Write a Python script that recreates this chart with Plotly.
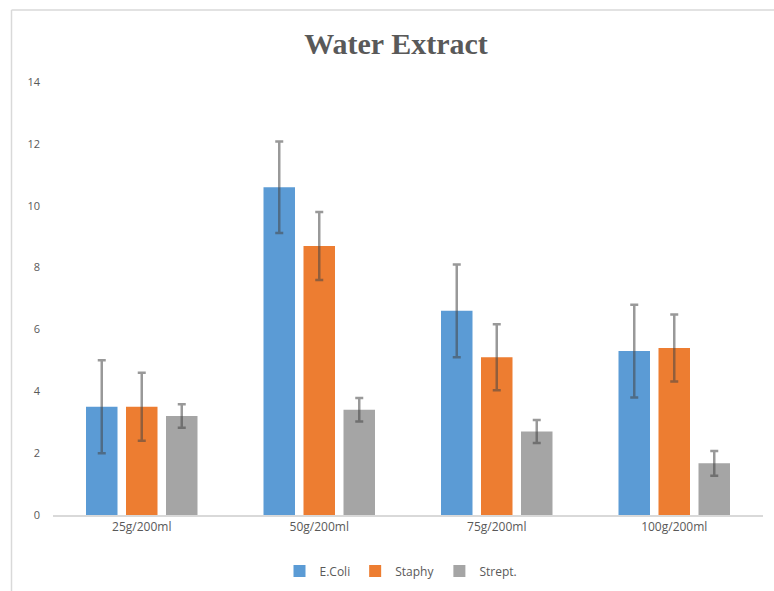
import plotly.graph_objects as go

categories = ["25g/200ml", "50g/200ml", "75g/200ml", "100g/200ml"]
ecoli = [3.5, 10.6, 6.6, 5.3]
ecoli_err = [1.5, 1.48, 1.5, 1.5]
staphy = [3.5, 8.7, 5.1, 5.4]
staphy_err = [1.1, 1.1, 1.07, 1.08]
strept = [3.2, 3.4, 2.7, 1.67]
strept_err = [0.38, 0.38, 0.37, 0.4]
series_names = ["E.Coli", "Staphy", "Strept."]
colors = ["#5b9bd5", "#ed7d31", "#a5a5a5"]

W, H = 774, 591
ml, mr, mt, mb = 53, 11, 82, 76

fig = go.Figure()
for name, vals, errs, col in zip(series_names, [ecoli, staphy, strept],
                                 [ecoli_err, staphy_err, strept_err], colors):
    fig.add_trace(go.Bar(
        x=categories, y=vals, name=name,
        marker=dict(color=col, line=dict(width=0)),
        error_y=dict(type="data", array=errs, visible=True,
                     color="rgba(70,70,70,0.55)", thickness=2.5, width=4),
    ))

pw = W - ml - mr
ph = H - mt - mb
fig.update_layout(
    width=W, height=H,
    margin=dict(l=ml, r=mr, t=mt, b=mb),
    paper_bgcolor="white", plot_bgcolor="white",
    barmode="group", bargap=0.324, bargroupgap=0.2125,
    title=dict(text="<b>Water Extract</b>", x=396 / W, xanchor="center",
               xref="container", yref="container", y=1 - 43 / H, yanchor="middle",
               font=dict(family="Liberation Serif", size=30, color="#595959")),
    font=dict(family="Open Sans", size=11, color="#595959"),
    xaxis=dict(showgrid=False, showline=True, linecolor="#d9d9d9", linewidth=1.5,
               ticks="", tickfont=dict(size=12, color="#595959")),
    yaxis=dict(range=[0, 14], dtick=2, showgrid=False, showline=False,
               zeroline=False, ticks="", ticklabelstandoff=12,
               tickfont=dict(size=11, color="#595959")),
    legend=dict(orientation="h", x=401 / W, xref="container", xanchor="center",
                y=1 - 571 / H, yref="container", yanchor="middle",
                font=dict(size=12, color="#595959"), itemwidth=30,
                traceorder="normal"),
    showlegend=True,
    shapes=[
        dict(type="line", xref="paper", yref="paper",
             x0=(11.5 - ml) / pw, x1=(11.5 - ml) / pw,
             y0=(H - mb - 10) / ph, y1=-(H - mb) / ph,
             line=dict(color="#d9d9d9", width=1.5)),
        dict(type="line", xref="paper", yref="paper",
             x0=(11.5 - ml) / pw, x1=(W - ml) / pw,
             y0=(H - mb - 10) / ph, y1=(H - mb - 10) / ph,
             line=dict(color="#d9d9d9", width=1.5)),
    ],
)

fig.write_html("out.html", config={"displayModeBar": False},
               post_script="document.body.style.margin='0';")
